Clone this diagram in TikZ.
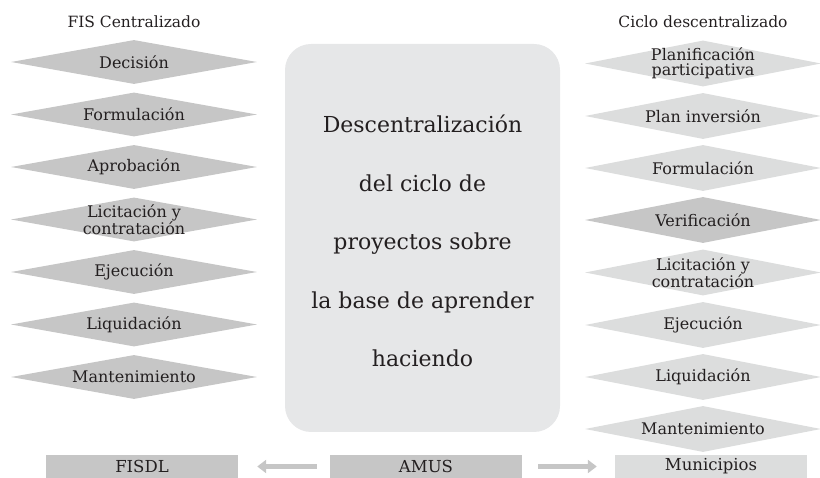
\documentclass[tikz,border=0pt]{standalone}
\usepackage{fontspec}
\setmainfont{DejaVu Serif}
\usetikzlibrary{shapes.geometric,arrows.meta}
\definecolor{ink}{HTML}{231F20}
\definecolor{gdark}{HTML}{C6C6C6}
\definecolor{glight}{HTML}{DCDDDD}
\definecolor{gbox}{HTML}{E6E7E8}
\tikzset{
  ldiam/.style={diamond, fill=gdark, inner sep=0pt, minimum width=246pt, minimum height=44pt},
  rdiam/.style={diamond, fill=glight, inner sep=0pt, minimum width=236pt, minimum height=46pt},
  dlab/.style={text=ink, font=\fontsize{16}{15}\selectfont, align=center, inner sep=0pt},
  ttl/.style={text=ink, font=\fontsize{15.5}{17}\selectfont, inner sep=0pt},
  botbox/.style={fill=gdark, minimum width=192pt, minimum height=23pt, inner sep=0pt, text=ink, font=\fontsize{16.5}{18}\selectfont},
  garrow/.style={draw=gdark, line width=4.5pt, -{Triangle[length=9pt,width=13pt]}}
}
\begin{document}
\begin{tikzpicture}[x=1pt,y=-1pt]
\useasboundingbox (0,0) rectangle (820,478);
% titles
\node[ttl] (t1) at (134,22) {FIS Centralizado};
\node[ttl] (t2) at (703,22) {Ciclo descentralizado};
% left diamonds
\node[ldiam] (l1) at (134,62) {};
\node[ldiam] (l2) at (134,114.5) {};
\node[ldiam] (l3) at (134,167) {};
\node[ldiam] (l4) at (134,219.5) {};
\node[ldiam] (l5) at (134,272) {};
\node[ldiam] (l6) at (134,324.5) {};
\node[ldiam] (l7) at (134,377) {};
\node[dlab] (l1t) at (l1) {Decisión};
\node[dlab] (l2t) at (l2) {Formulación};
\node[dlab] (l3t) at (l3) {Aprobación};
\node[dlab] (l4t) at (l4) {Licitación y\\contratación};
\node[dlab] (l5t) at (l5) {Ejecución};
\node[dlab] (l6t) at (l6) {Liquidación};
\node[dlab] (l7t) at (l7) {Mantenimiento};
% right diamonds
\node[rdiam] (r1) at (703,63.5) {};
\node[rdiam] (r2) at (703,116) {};
\node[rdiam] (r3) at (703,168) {};
\node[rdiam, fill=gdark] (r4) at (703,220) {};
\node[rdiam] (r5) at (703,272.5) {};
\node[rdiam] (r6) at (703,325) {};
\node[rdiam] (r7) at (703,377) {};
\node[rdiam] (r8) at (703,429) {};
\node[dlab] (r1t) at (r1) {Planificación\\participativa};
\node[dlab] (r2t) at (r2) {Plan inversión};
\node[dlab] (r3t) at (r3) {Formulación};
\node[dlab] (r4t) at (r4) {Verificación};
\node[dlab] (r5t) at (r5) {Licitación y\\contratación};
\node[dlab] (r6t) at (r6) {Ejecución};
\node[dlab] (r7t) at (r7) {Liquidación};
\node[dlab] (r8t) at (r8) {Mantenimiento};
% center box
\node[fill=gbox, rounded corners=26pt, minimum width=275pt, minimum height=388pt, inner sep=0pt] (c) at (422.5,238) {};
\node[text=ink, font=\fontsize{22}{58.5}\selectfont, align=center, inner sep=0pt] (ct) at (422.5,241) {Descentralización\\del ciclo de\\proyectos sobre\\la base de aprender\\haciendo};
% bottom boxes
\node[botbox] (fisdl) at (142,466.5) {FISDL};
\node[botbox] (amus) at (426,466.5) {AMUS};
\node[botbox, fill=glight] (mun) at (711,466.5) {Municipios};
\draw[garrow, shorten <=13pt, shorten >=19pt] (amus.west) -- (fisdl.east);
\draw[garrow, shorten <=16pt, shorten >=18pt] (amus.east) -- (mun.west);
\end{tikzpicture}
\end{document}
